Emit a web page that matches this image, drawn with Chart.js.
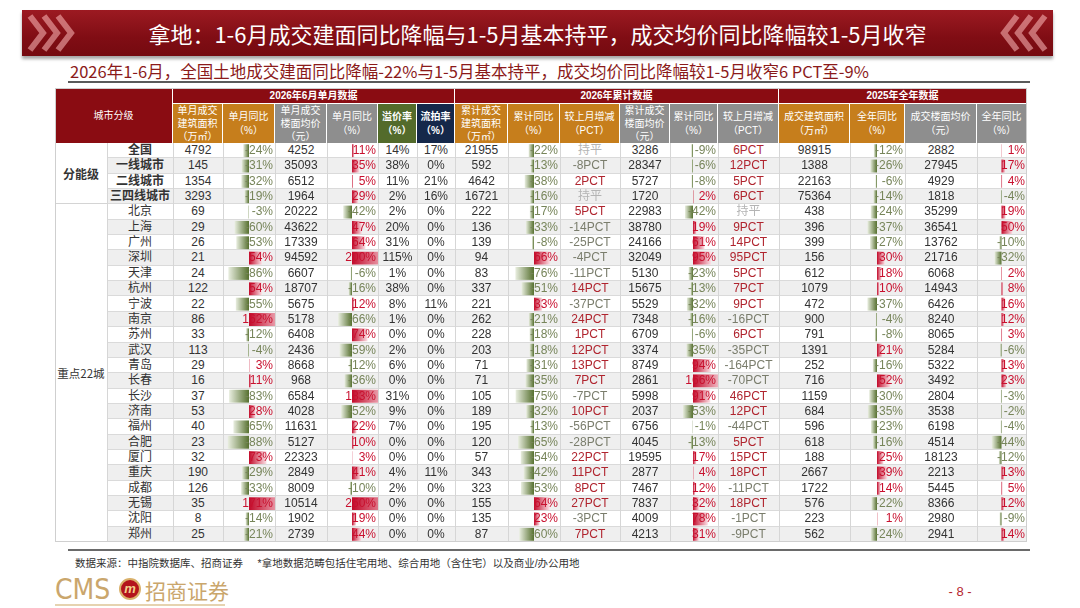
<!DOCTYPE html>
<html>
<head>
<meta charset="utf-8">
<script src="https://cdn.jsdelivr.net/npm/chart.js@4.4.1/dist/chart.umd.min.js"></script>
<style>
body{margin:0;width:1080px;height:608px;overflow:hidden;background:#fff;position:relative;
  font-family:"Liberation Sans","Noto Sans CJK SC",sans-serif;color:#333}
.abs{position:absolute;box-sizing:border-box}
.hd{color:#fff;font-family:"Liberation Sans","Noto Sans CJK SC",sans-serif;font-size:10px;line-height:13.3px;
  display:flex;align-items:center;justify-content:center;text-align:center}
.tx{font-size:12px;white-space:nowrap;z-index:3}
canvas{position:absolute;z-index:2}
</style>
</head>
<body>
<script>
// 城市
const cities = ['全国','一线城市','二线城市','三四线城市','北京','上海','广州','深圳','天津','杭州','宁波','南京','苏州',
  '武汉','青岛','长春','长沙','济南','福州','合肥','厦门','重庆','成都','无锡','沈阳','郑州'];

// 2026年6月单月
const monthArea = [4792,145,1354,3293,69,29,26,21,24,122,22,86,33,113,29,16,37,53,40,23,32,190,126,35,8,25];
const monthAreaYoy = [-24,-31,-32,-19,-3,-60,-53,54,-86,54,-55,162,-12,-4,3,11,-83,28,-65,-88,73,-29,-33,171,-14,-21];
const monthPrice = [4252,35093,6512,1964,20222,43622,17339,94592,6607,18707,5675,5178,6408,2436,8668,968,6584,4028,11631,5127,22323,2849,8009,10514,1902,2739];
const monthPriceYoy = [11,35,5,29,-42,47,64,200,-6,-16,12,-66,74,-59,-12,-36,183,-52,22,10,3,41,-10,250,19,44];
const premium = [14,38,11,2,2,20,31,115,1,38,8,1,0,2,6,0,31,9,7,0,0,4,2,0,0,0];
const failRate = [17,0,21,16,0,0,0,0,0,0,11,0,0,0,0,0,0,0,0,0,0,11,0,0,0,0];

// 2026年累计
const cumArea = [21955,592,4642,16721,222,136,139,94,83,337,221,262,228,203,71,71,105,189,195,120,57,343,323,155,135,87];
const cumAreaYoy = [-22,-13,-38,-16,-17,-33,-8,66,-76,-51,33,-21,-18,-18,-31,-35,-75,-32,-13,-65,-54,-42,-53,64,23,-60];
const cumAreaChg = [0,-8,2,0,5,-14,-25,-4,-11,14,-37,24,1,12,13,7,-7,10,-56,-28,22,11,8,27,-3,7];
const cumPrice = [3286,28347,5727,1720,22983,38780,24166,32049,5130,15675,5529,7348,6709,3374,8749,2861,5998,2037,6756,4045,19595,2877,7467,7837,4009,4213];
const cumPriceYoy = [-9,-6,-8,2,-42,19,61,95,-23,-13,-32,-16,-6,-35,94,166,91,-53,-1,-13,17,4,12,32,78,31];
const cumPriceChg = [6,12,5,6,0,9,14,95,5,7,9,-16,6,-35,-164,-70,46,12,-44,5,15,18,-11,18,-1,-9];

// 2025年全年
const yearArea = [98915,1388,22163,75364,438,396,399,156,612,1079,472,900,791,1391,252,716,1159,684,596,618,188,2667,1722,576,223,562];
const yearAreaYoy = [-12,-26,-6,-14,-24,-37,-27,30,18,10,-37,-4,-8,21,-16,52,-30,-35,-23,-16,25,39,14,-22,1,-24];
const yearPrice = [2882,27945,4929,1818,35299,36541,13762,21716,6068,14943,6426,8240,8065,5284,5322,3492,2804,3538,6198,4514,18123,2213,5445,8366,2980,2941];
const yearPriceYoy = [1,17,4,-4,19,50,-10,-32,2,8,16,12,3,-6,13,23,-3,-2,-4,-44,-12,13,5,12,-9,14];

const ORANGE = '#c67e1c', GREY = '#8e8e8e', GREEN = '#536b2b', NAVY = '#15284a', DARKRED = '#8a0c12';
const TOP = 143, RH = 15.35, N = cities.length;

// 列布局
const cols = [
  {x0:173,x1:223,d:monthArea,t:'num',bg:ORANGE,h:'单月成交<br>建筑面积<br>（万㎡）'},
  {x0:223,x1:275,d:monthAreaYoy,t:'bar',axis:249,k:0.24,bg:ORANGE,h:'单月同比<br>（%）'},
  {x0:275,x1:327,d:monthPrice,t:'num',bg:GREY,h:'单月成交<br>楼面均价<br>（元）'},
  {x0:327,x1:378,d:monthPriceYoy,t:'bar',axis:352,k:0.21,bg:GREY,h:'单月同比<br>（%）'},
  {x0:378,x1:417,d:premium,t:'pct',bg:GREEN,h:'<b>溢价率<br>（%）</b>'},
  {x0:417,x1:455,d:failRate,t:'pct',bg:NAVY,h:'<b>流拍率<br>（%）</b>'},
  {x0:455,x1:508,d:cumArea,t:'num',bg:ORANGE,h:'累计成交<br>建筑面积<br>（万㎡）'},
  {x0:508,x1:560,d:cumAreaYoy,t:'bar',axis:534,k:0.245,bg:ORANGE,h:'累计同比<br>（%）'},
  {x0:560,x1:620,d:cumAreaChg,t:'chg',bg:ORANGE,h:'较上月增减<br>（PCT）'},
  {x0:620,x1:670,d:cumPrice,t:'num',bg:GREY,h:'累计成交<br>楼面均价<br>（元）'},
  {x0:670,x1:718,d:cumPriceYoy,t:'bar',axis:693,k:0.19,bg:GREY,h:'累计同比<br>（%）'},
  {x0:718,x1:779,d:cumPriceChg,t:'chg',bg:GREY,h:'较上月增减<br>（PCT）'},
  {x0:779,x1:850,d:yearArea,t:'num',bg:ORANGE,h:'成交建筑面积<br>（万㎡）'},
  {x0:850,x1:905,d:yearAreaYoy,t:'bar',axis:877,k:0.26,bg:ORANGE,h:'全年同比<br>（%）'},
  {x0:905,x1:977,d:yearPrice,t:'num',bg:GREY,h:'成交楼面均价<br>（元）'},
  {x0:977,x1:1027,d:yearPriceYoy,t:'bar',axis:1001.5,k:0.22,bg:GREY,h:'全年同比<br>（%）'}
];

function box(x,y,w,h,css,html,cls){
  const d = document.createElement('div');
  d.className = 'abs' + (cls ? ' ' + cls : '');
  d.style.cssText = `left:${x}px;top:${y}px;width:${w}px;height:${h}px;` + (css || '');
  if (html !== undefined) d.innerHTML = html;
  document.body.appendChild(d);
  return d;
}

// 标题栏
box(22,10,1031,46,'background:linear-gradient(#9c1a22,#800d14 60%,#750a10);box-shadow:0 3px 3px rgba(0,0,0,.35);');
box(22,10,1031,46,'color:#fff;font-family:"Noto Sans CJK SC";font-size:22px;line-height:46px;text-align:center;',
  '拿地：1-6月成交建面同比降幅与1-5月基本持平，成交均价同比降幅较1-5月收窄');
let chev = '<svg width="1080" height="60" style="position:absolute;left:0;top:0">';
[30,44,58].forEach(x => chev += `<polyline points="${x},16 ${x+13},33 ${x},50" fill="none" stroke="rgba(255,190,190,.55)" stroke-width="6"/>`);
[1045,1031,1017].forEach(x => chev += `<polyline points="${x},16 ${x-13},33 ${x},50" fill="none" stroke="rgba(255,190,190,.55)" stroke-width="6"/>`);
chev += '</svg>';
box(0,0,1080,60,'',chev);

// 副标题
box(70,60,980,22,'color:#8b1a1a;font-family:"Noto Sans CJK SC";font-size:16.5px;line-height:22px;white-space:nowrap;',
  '2026年1-6月，全国土地成交建面同比降幅-22%与1-5月基本持平，成交均价同比降幅较1-5月收窄6 PCT至-9%');
box(68,81,962,2,'background:#5a5a5a;');

// 表头
box(55,88,118,55,'background:'+DARKRED+';border-right:1px solid #fff;','城市分级','hd');
[[173,455,'2026年6月单月数据'],[455,779,'2026年累计数据'],[779,1027,'2025年全年数据']].forEach(g =>
  box(g[0],88,g[1]-g[0],15,'background:'+DARKRED+';border-right:1px solid #fff;font-weight:bold;line-height:15px;',g[2],'hd'));
cols.forEach(c => box(c.x0,103,c.x1-c.x0,40,'background:'+c.bg+';border-right:1px solid #fff;border-top:1px solid #fff;',c.h,'hd'));

// 行底色与网格
box(55,TOP,52,RH*4,'background:#fff;border-bottom:1px solid #d4d4d4;');
for (let i = 0; i < N; i++) {
  box(107,TOP+i*RH,920,RH,'background:'+(i%2 ? '#efefef' : '#fff')+';border-bottom:1px solid #dadada;');
}
[107,...cols.map(c => c.x0)].forEach(x => box(x,TOP,1,RH*N,'background:#d6d6d6;z-index:1;'));
box(55,88,972,TOP+RH*N-88,'border:1px solid #cfcfcf;z-index:1;');

// 分组
box(55,TOP,52,RH*4,'font-family:\'Noto Sans CJK SC\';font-size:12px;font-weight:bold;display:flex;align-items:center;justify-content:center;z-index:3','分能级');
box(55,TOP+RH*4,52,RH*(N-4),'font-family:\'Noto Sans CJK SC\';font-size:11.5px;display:flex;align-items:center;justify-content:center;z-index:3','重点22城');

// 文本
const NEG = '#77855a', POS = '#c8102e';
cities.forEach((c,i) => box(107,TOP+i*RH,66,RH,
  'text-align:center;line-height:'+RH+'px;'+(i<4 ? 'font-weight:bold;' : ''),c,'tx'));
cols.forEach(col => {
  col.d.forEach((v,i) => {
    let s = String(v), css = 'text-align:center;';
    if (col.t === 'pct') s = v + '%';
    if (col.t === 'bar') { s = v + '%'; css = 'text-align:right;padding-right:2px;color:'+(v<0 ? NEG : POS)+';'; }
    if (col.t === 'chg') {
      if (v === 0) { s = '持平'; css += 'color:#b4b4b4;'; }
      else { s = v + 'PCT'; css += 'color:'+(v>0 ? '#b0242e' : '#7a7d6c')+';'; }
    }
    box(col.x0,TOP+i*RH,col.x1-col.x0,RH,css+'line-height:'+RH+'px;',s,'tx');
  });
});

// 数据条
function barFill(ctx){
  const v = ctx.raw;
  if (ctx.type !== 'data' || typeof v !== 'number') return '#c4102c';
  const ch = ctx.chart, sx = ch.scales.x;
  if (!sx) return v < 0 ? '#5b7433' : '#c4102c';
  const p0 = sx.getPixelForValue(0), p1 = sx.getPixelForValue(v);
  if (!isFinite(p0) || !isFinite(p1) || Math.abs(p1-p0) < 0.5) return v < 0 ? '#5b7433' : '#c4102c';
  const g = ch.ctx.createLinearGradient(p0,0,p1,0);
  if (v < 0) { g.addColorStop(0,'#56702f'); g.addColorStop(1,'#e9eee0'); }
  else { g.addColorStop(0,'#c20a2a'); g.addColorStop(1,'#fbe1e6'); }
  return g;
}
cols.filter(c => c.t === 'bar').forEach(col => {
  const cv = document.createElement('canvas');
  const w = col.x1 - col.x0 - 1, h = Math.round(RH*N);
  cv.style.cssText = `left:${col.x0+1}px;top:${TOP}px;width:${w}px;height:${h}px;`;
  cv.width = w; cv.height = h;
  document.body.appendChild(cv);
  new Chart(cv, {
    type: 'bar',
    data: {
      labels: cities,
      datasets: [{
        data: col.d,
        backgroundColor: barFill,
        borderWidth: 0,
        barPercentage: 0.84,
        categoryPercentage: 1,
        clip: 0
      }]
    },
    options: {
      indexAxis: 'y',
      responsive: false,
      animation: false,
      events: [],
      layout: {padding: 0},
      plugins: {legend: {display: false}, tooltip: {enabled: false}},
      scales: {
        x: {display: false, min: (col.x0 + 1 - col.axis)/col.k, max: (col.x1 - col.axis)/col.k},
        y: {display: false}
      }
    }
  });
});

// 脚注
box(68,549,962,2,'background:#6a6a6a;');
box(75,555,700,16,'font-size:10.5px;line-height:16px;white-space:nowrap;color:#333;',
  '数据来源：中指院数据库、招商证券&nbsp;&nbsp;&nbsp;&nbsp;&nbsp;*拿地数据范畴包括住宅用地、综合用地（含住宅）以及商业/办公用地');

// 标志与页码
box(55,575,64,30,'font-family:"Liberation Sans Narrow","DejaVu Sans Condensed",sans-serif;font-size:28px;line-height:30px;color:#caa66c;','CMS');
box(119,578,22,22,'border-radius:50%;background:#b3141c;border:2px solid #d9b06a;color:#f3d08a;font-size:13px;font-weight:bold;font-style:italic;text-align:center;line-height:18px;','m');
box(145,575,90,30,'font-family:"Noto Sans CJK SC";font-size:21px;line-height:30px;color:#caa66c;','招商证券');
box(55,604,170,2,'background:#e6d3b0;');
box(940,584,40,18,'color:#b5262e;font-size:13px;text-align:center;','- 8 -');
</script>
</body>
</html>
